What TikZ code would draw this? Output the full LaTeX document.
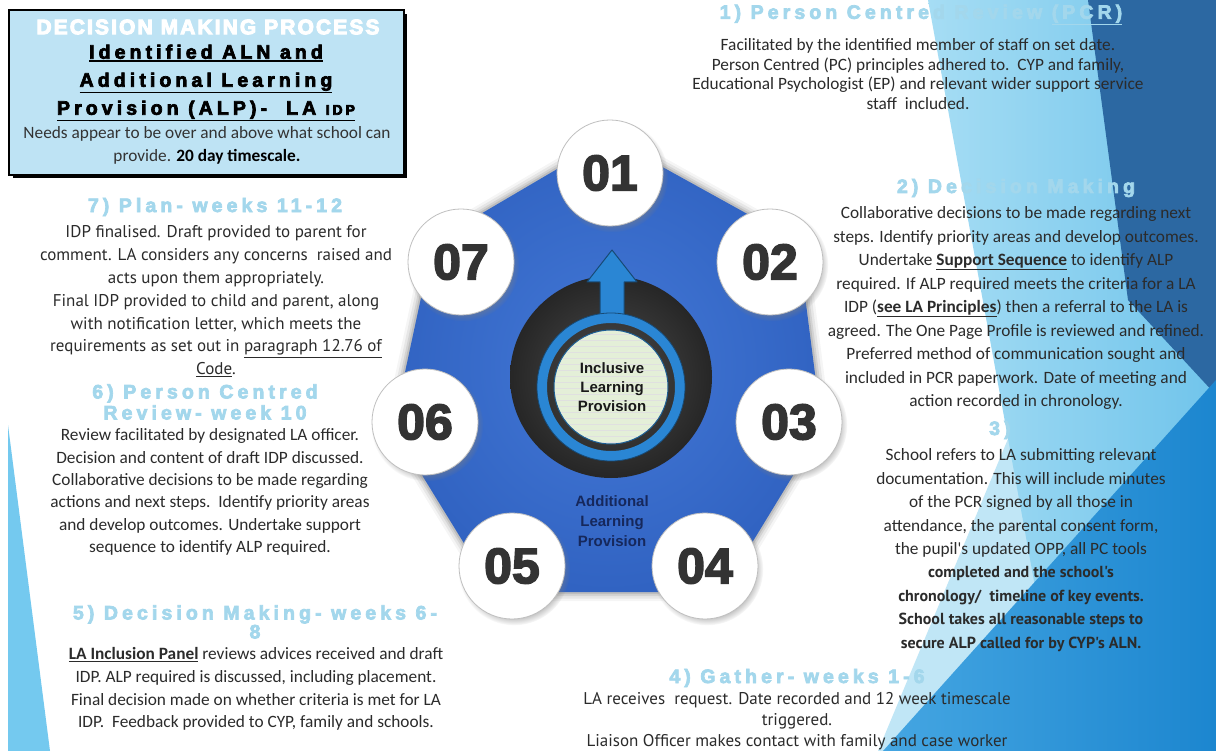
\documentclass[tikz,border=0pt]{standalone}
\usepackage{fontspec}
\setmainfont{Carlito}
\newfontfamily\bodyfont{Carlito}
\newfontfamily\tahfont{PT Sans}
\newfontface\headfont[LetterSpace=21]{Liberation Sans Bold}
\newfontface\blkfont[LetterSpace=10]{Liberation Sans Bold}
\newfontface\numfont{Liberation Sans Bold}
\newfontfamily\arfont{Liberation Sans}
\usetikzlibrary{shadows,fadings}
\newcommand\hvon[1][0.7]{\special{pdf:literal direct #1 w 2 Tr}}
\newcommand\hvoff{\special{pdf:literal direct 0 Tr 0.4 w}}
\newcommand\ulx[2][1pt]{\leavevmode\vtop{\hbox{#2}\kern1.2pt\hrule height #1}}
\newcommand\ulb[1]{\ulx{\bfseries #1}}
\definecolor{headblue}{HTML}{A3D7EC}
\definecolor{txt}{HTML}{2B2B2B}
\definecolor{numgray}{HTML}{333333}
\definecolor{hexin}{HTML}{4378D6}
\definecolor{hexout}{HTML}{3163C2}
\definecolor{ringblue}{HTML}{2A86D4}
\definecolor{discgreen}{HTML}{E4EFD8}
\definecolor{navytxt}{HTML}{16285C}
\definecolor{boxblue}{HTML}{BEE3F4}
\definecolor{cyanL}{HTML}{A6DDF4}
\definecolor{cyanR}{HTML}{70C4EB}
\definecolor{darkblue}{HTML}{2C68A2}
\definecolor{brightL}{HTML}{45A6E2}
\definecolor{brightR}{HTML}{1C86CF}
\definecolor{paleblue}{HTML}{C0E6F6}
\definecolor{stripblue}{HTML}{74C9EF}
\begin{document}
\begin{tikzpicture}[x=1pt,y=-1pt,
  hd/.style={inner sep=0pt, align=center, text=headblue, font=\headfont\fontsize{19.5}{#1}\selectfont},
  hd/.default=21,
  bd/.style={inner sep=0pt, align=center, text=txt, font=\bodyfont\fontsize{17.3}{#1}\selectfont},
  bd/.default=23,
  td/.style={inner sep=0pt, align=center, text=txt, font=\tahfont\fontsize{17}{#1}\selectfont},
  td/.default=22.8,
  num/.style={circle, fill=white, draw=black!25, line width=0.8pt, minimum size=106pt, inner sep=0pt,
    text=numgray, font=\numfont\fontsize{50}{50}\selectfont,
    circular drop shadow={shadow xshift=2pt, shadow yshift=-3pt, opacity=0.5, shadow scale=1.06}},
  ctr/.style={inner sep=0pt, align=center, font=\arfont\bfseries\fontsize{15}{#1}\selectfont},
  ctr/.default=19]
\useasboundingbox (0,0) rectangle (1216,751);
\fill[white] (0,0) rectangle (1216,751);
% background facets
\fill[stripblue] (8,425) -- (8,751) -- (50,751) -- cycle;
\fill[paleblue] (878,751) -- (1045,350) -- (1216,751) -- cycle;
\shade[left color=cyanL, right color=cyanR] (928,0) -- (1216,0) -- (1216,751) -- (1065,751) -- cycle;
\fill[darkblue] (1088,0) -- (1216,0) -- (1216,395) -- (1128,300) -- cycle;
\shade[left color=brightL, right color=brightR] (883,751) -- (1216,751) -- (1216,380) -- cycle;
% top-left box
\fill[black] (13,14) rectangle (407,178);
\draw[fill=boxblue, line width=2.5pt] (9,10) rectangle (404,175);
\node[inner sep=0pt, text=white, font=\blkfont\fontsize{21}{21}\selectfont] (title) at (208,27) {\hvon[1]DECISION MAKING PROCESS\hvoff};
\node[inner sep=0pt, align=center, text=black, font=\headfont\fontsize{19.5}{28}\selectfont] (boxhead) at (206,83)
  {\hvon\ulx[1.4pt]{Identified ALN and}\\\ulx[1.4pt]{Additional Learning}\\\ulx[1.4pt]{Provision (ALP)-\ \ LA {\fontsize{14}{14}\selectfont IDP}}\hvoff};
\node[bd=23, text=black!80] (boxbody) at (207,145) {Needs appear to be over and above what school can\\provide. {\bfseries\color{black}20 day timescale.}};
% central heptagon
\coordinate (hv1) at (610,138);
\coordinate (hv2) at (798,242);
\coordinate (hv3) at (822,428);
\coordinate (hv4) at (722,592);
\coordinate (hv5) at (494,592);
\coordinate (hv6) at (393,428);
\coordinate (hv7) at (433,242);
\foreach \w/\o in {18/0.04, 13/0.06, 8/0.08, 4/0.1}
  \draw[line width=\w pt, black, opacity=\o, rounded corners=24pt, line join=round]
    (hv1) -- (hv2) -- (hv3) -- (hv4) -- (hv5) -- (hv6) -- (hv7) -- cycle;
\shade[inner color=hexin, outer color=hexout, rounded corners=24pt]
  (hv1) -- (hv2) -- (hv3) -- (hv4) -- (hv5) -- (hv6) -- (hv7) -- cycle;
% dark disk, arrow, ring, inner disc
\shade[inner color=black!70, outer color=black!85] (611,377) circle[radius=101pt];
\filldraw[fill=ringblue, draw=ringblue!55!black, line width=1pt, line join=round]
  (600,318) -- (600,282) -- (587,282) -- (612,250) -- (637,282) -- (624,282) -- (624,318) -- cycle;
\draw[ringblue, line width=10pt] (611,387) circle[radius=69pt];
\draw[ringblue!55!black, line width=0.8pt] (611,387) circle[radius=74pt];
\node[circle, fill=discgreen, draw=ringblue!70!black, line width=1pt, minimum size=114pt, inner sep=0pt] (disc) at (611,387) {};
\begin{scope}
  \clip (611,387) circle[radius=56pt];
  \foreach \yy in {334,340,...,446} \draw[black!12, line width=0.4pt] (552,\yy) -- (670,\yy);
\end{scope}
\node[ctr, text=black!90] (ilp) at (612,387) {Inclusive\\Learning\\Provision};
\node[ctr=20, text=navytxt] (alp) at (612,521) {Additional\\Learning\\Provision};
% number circles
\node[num] (c01) at (610,173) {\hvon[1.6]01\hvoff};
\node[num] (c02) at (770,262) {\hvon[1.6]02\hvoff};
\node[num] (c03) at (789,422) {\hvon[1.6]03\hvoff};
\node[num] (c04) at (705,566) {\hvon[1.6]04\hvoff};
\node[num] (c05) at (512,566) {\hvon[1.6]05\hvoff};
\node[num] (c06) at (425,422) {\hvon[1.6]06\hvoff};
\node[num] (c07) at (461,262) {\hvon[1.6]07\hvoff};
% block 1
\node[hd] (h1) at (921,15) {\hvon 1) Person Centred Review \ulx[1.2pt]{(PCR)}\hvoff};
\node[bd=19.6] (b1) at (918,74) {Facilitated by the identified member of staff on set date.\\Person Centred (PC) principles adhered to.\ \ CYP and family,\\Educational Psychologist (EP) and relevant wider support service\\staff\ \ included.};
% block 2
\node[hd] (h2) at (1016,188) {\hvon 2) Decision Making\hvoff};
\node[bd=23.5] (b2) at (1016,308) {Collaborative decisions to be made regarding next\\steps. Identify priority areas and develop outcomes.\\Undertake \ulb{Support Sequence} to identify ALP\\required. If ALP required meets the criteria for a LA\\IDP (\ulb{see LA Principles}) then a referral to the LA is\\agreed. The One Page Profile is reviewed and refined.\\Preferred method of communication sought and\\included in PCR paperwork. Date of meeting and\\action recorded in chronology.};
% block 3
\node[hd, anchor=west] (h3) at (989,430) {\hvon 3)\hvoff};
\node[bd=23.5] (b3a) at (1021,503) {School refers to LA submitting relevant\\documentation. This will include minutes\\of the PCR signed by all those in\\attendance, the parental consent form,\\the pupil's updated OPP, all PC tools};
\node[inner sep=0pt, align=center, text=txt, font=\tahfont\bfseries\fontsize{16}{23.4}\selectfont] (b3b) at (1021,609) {completed and the school's\\chronology/\ \ timeline of key events.\\School takes all reasonable steps to\\secure ALP called for by CYP's ALN.};
% block 4
\node[hd] (h4) at (797,678) {\hvon 4) Gather- weeks 1-6\hvoff};
\node[td=21] (b4) at (797,721) {LA receives\ \ request. Date recorded and 12 week timescale\\triggered.\\Liaison Officer makes contact with family and case worker};
% block 5
\node[hd=19] (h5) at (255,622) {\hvon 5) Decision Making- weeks 6-\\8\hvoff};
\node[bd=22.7] (b5) at (256,689) {\ulb{LA Inclusion Panel} reviews advices received and draft\\IDP. ALP required is discussed, including placement.\\Final decision made on whether criteria is met for LA\\IDP.\ \ Feedback provided to CYP, family and schools.};
% block 6
\node[hd] (h6) at (205,402) {\hvon 6) Person Centred\\Review- week 10\hvoff};
\node[bd=22.4] (b6) at (210,492) {Review facilitated by designated LA officer.\\Decision and content of draft IDP discussed.\\Collaborative decisions to be made regarding\\actions and next steps.\ \ Identify priority areas\\and develop outcomes. Undertake support\\sequence to identify ALP required.};
% block 7
\node[hd] (h7) at (215,207) {\hvon 7) Plan- weeks 11-12\hvoff};
\node[td=22.8] (b7) at (216,301.5) {IDP finalised. Draft provided to parent for\\comment. LA considers any concerns\ \ raised and\\acts upon them appropriately.\\Final IDP provided to child and parent, along\\with notification letter, which meets the\\requirements as set out in \ulx{paragraph 12.76 of}\\\ulx{Code}.};
\end{tikzpicture}
\end{document}
